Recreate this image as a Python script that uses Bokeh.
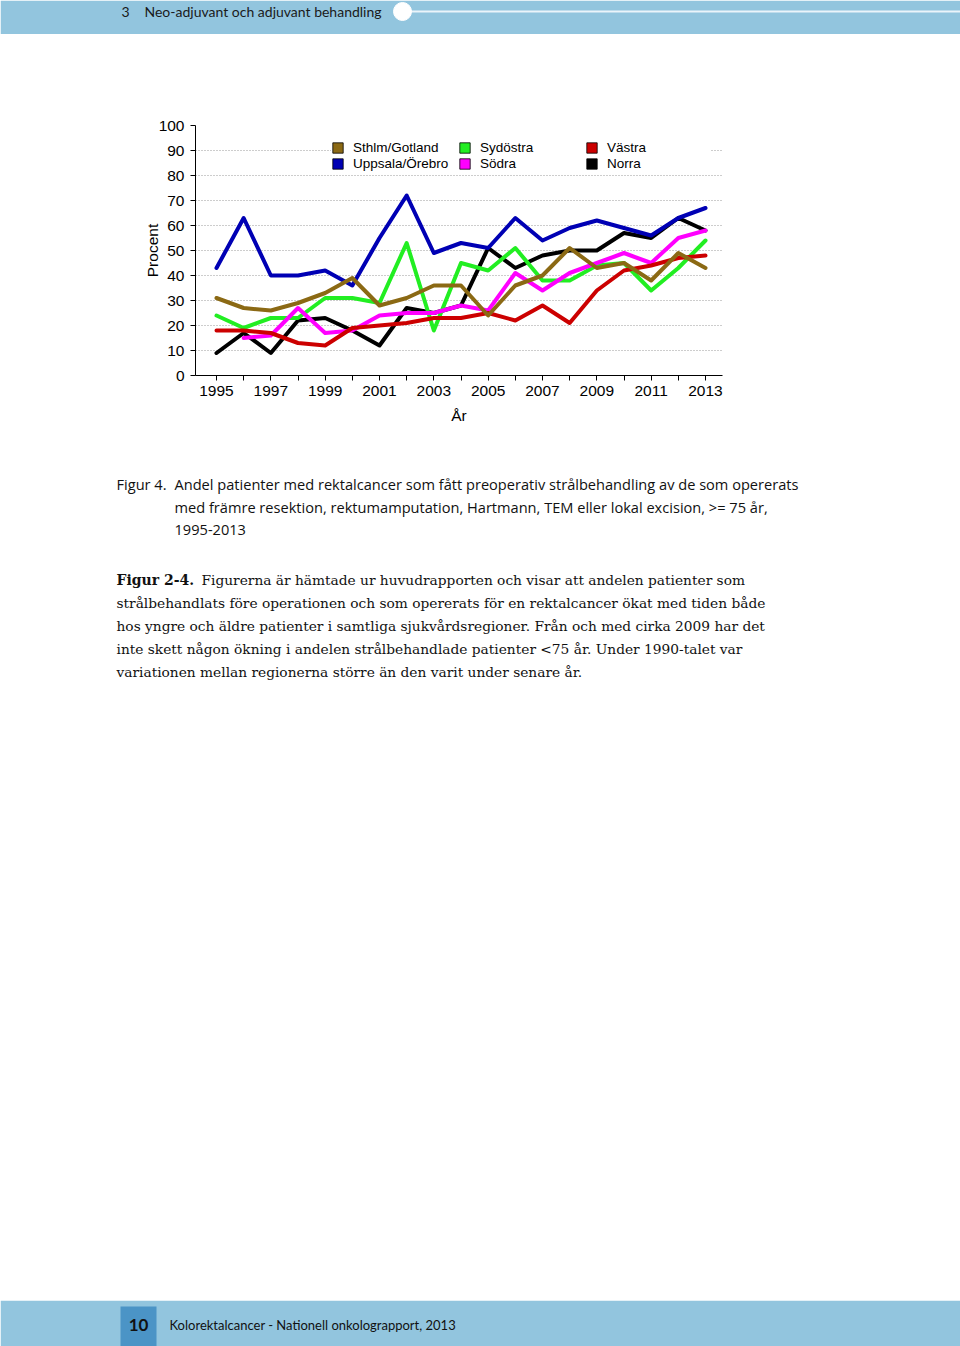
from bokeh.plotting import figure
from bokeh.models import Range1d, FixedTicker, Legend, LegendItem
from bokeh.layouts import column
from bokeh.embed import file_html
from bokeh.resources import INLINE
from bokeh.core.properties import value

nan = float("nan")

# ---------------- data ----------------
years = list(range(1995, 2014))
sthlm_gotland = [31, 27, 26, 29, 33, 39, 28, 31, 36, 36, 24, 36, 40, 51, 43, 45, 38, 49, 43]
uppsala_orebro = [43, 63, 40, 40, 42, 36, 55, 72, 49, 53, 51, 63, 54, 59, 62, 59, 56, 63, 67]
sydostra = [24, 19, 23, 23, 31, 31, 29, 53, 18, 45, 42, 51, 38, 38, 44, 45, 34, 43, 54]
sodra = [nan, 15, 16, 27, 17, 18, 24, 25, 25, 28, 26, 41, 34, 41, 45, 49, 45, 55, 58]
vastra = [18, 18, 17, 13, 12, 19, 20, 21, 23, 23, 25, 22, 28, 21, 34, 42, 44, 47, 48]
norra = [9, 17, 9, 22, 23, 18, 12, 27, 25, 28, 51, 43, 48, 50, 50, 57, 55, 63, 58]

region_names = ["Sthlm/Gotland", "Uppsala/Örebro", "Sydöstra", "Södra", "Västra", "Norra"]
region_values = [sthlm_gotland, uppsala_orebro, sydostra, sodra, vastra, norra]
region_colors = ["#8B6914", "#0000B4", "#22EE22", "#FF00FF", "#CC0000", "#000000"]
draw_order = [5, 2, 3, 4, 1, 0]

y_ticks = list(range(0, 101, 10))
grid_ticks = list(range(10, 100, 10))
x_tick_labels = {y: (str(y) if y % 2 == 1 else "") for y in years}

header_number = "3"
header_title = "Neo-adjuvant och adjuvant behandling"
caption_label = "Figur 4."
caption_lines = [
    "Andel patienter med rektalcancer som fått preoperativ strålbehandling av de som opererats",
    "med främre resektion, rektumamputation, Hartmann, TEM eller lokal excision, >= 75 år,",
    "1995-2013",
]
body_label = "Figur 2-4."
body_first = "Figurerna är hämtade ur huvudrapporten och visar att andelen patienter som"
body_lines = [
    "strålbehandlats före operationen och som opererats för en rektalcancer ökat med tiden både",
    "hos yngre och äldre patienter i samtliga sjukvårdsregioner. Från och med cirka 2009 har det",
    "inte skett någon ökning i andelen strålbehandlade patienter <75 år. Under 1990-talet var",
    "variationen mellan regionerna större än den varit under senare år.",
]
footer_page = "10"
footer_text = "Kolorektalcancer - Nationell onkolograpport, 2013"

BAND = "#92C5DE"
BAND_DARK = "#4B94C6"
HEAD_FONT = "Lato"
CAP_FONT = "Open Sans"
CHART_FONT = "Liberation Sans"
SERIF = "DejaVu Serif"
W = 960


def no_align(f):
    try:
        f.frame_align = False
    except Exception:
        pass
    return f


def deco(height, top, bottom):
    f = figure(width=W, height=height, x_range=Range1d(0, W),
               y_range=Range1d(bottom, top), x_axis_type=None, y_axis_type=None,
               output_backend="svg", toolbar_location=None, min_border=0)
    f.grid.visible = False
    f.outline_line_color = None
    f.background_fill_color = "white"
    f.border_fill_color = "white"
    return no_align(f)


# ---------------- header ----------------
hdr = deco(34, 0, 34)
hdr.quad(left=[0], right=[W], top=[0], bottom=[34], fill_color=BAND, line_color=None)
hdr.segment(x0=[402], y0=[11], x1=[W], y1=[11], line_color="#EAF4FA", line_width=2)
hdr.scatter(x=[402], y=[11], size=18, marker="circle", fill_color="white", line_color="white")
hdr.text(x=[121], y=[11], text=[header_number], text_font=value(HEAD_FONT), text_font_size="14px",
         text_baseline="middle", text_align="left", text_color="#1a1a1a")
hdr.text(x=[144], y=[11], text=[header_title], text_font=value(HEAD_FONT), text_font_size="14px",
         text_baseline="middle", text_align="left", text_color="#1a1a1a")

# ---------------- chart ----------------
px_per_year = (705 - 216) / 18.0
x_start = 1995 - (216 - 195) / px_per_year
x_end = 2013 + (722 - 705) / px_per_year

p = figure(width=W, height=406, x_range=Range1d(x_start, x_end), y_range=Range1d(0, 100),
           min_border_left=195, min_border_right=W - 722, min_border_top=91, min_border_bottom=65,
           output_backend="svg", toolbar_location=None)
no_align(p)
p.outline_line_color = None
p.background_fill_color = "white"
p.border_fill_color = "white"

p.xgrid.visible = False
p.ygrid.ticker = FixedTicker(ticks=grid_ticks)
p.ygrid.grid_line_color = "#9A9A9A"
p.ygrid.grid_line_dash = "1 2"
p.ygrid.grid_line_width = 1

for ax in (p.xaxis, p.yaxis):
    ax.axis_line_color = "black"
    ax.major_tick_line_color = "black"
    ax.major_tick_out = 5
    ax.major_tick_in = 0
    ax.minor_tick_line_color = None
    ax.major_label_text_font = CHART_FONT
    ax.major_label_text_font_size = "15.5px"
    ax.major_label_text_color = "black"
    ax.axis_label_text_font = CHART_FONT
    ax.axis_label_text_font_size = "15.5px"
    ax.axis_label_text_font_style = "normal"
    ax.axis_label_text_color = "black"

p.yaxis.ticker = FixedTicker(ticks=y_ticks)
p.yaxis.major_label_standoff = 6
p.yaxis.axis_label = "Procent"
p.yaxis.axis_label_standoff = -5

p.xaxis.ticker = FixedTicker(ticks=years)
p.xaxis.major_label_overrides = x_tick_labels
p.xaxis.major_label_standoff = 5
p.xaxis.axis_label = "År"
p.xaxis.axis_label_standoff = 8

for i in draw_order:
    p.line(years, region_values[i], line_color=region_colors[i], line_width=4,
           line_join="round", line_cap="round")

items = []
for name, col in zip(region_names, region_colors):
    proxy = p.quad(left=[nan], right=[nan], top=[nan], bottom=[nan], fill_color=col,
                   line_color="black", line_width=0.8)
    items.append(LegendItem(label=name, renderers=[proxy]))

legend = Legend(items=items, location=(136, 204), orientation="vertical", ncols=3,
                glyph_width=13, glyph_height=13, label_height=13, label_width=104,
                label_standoff=9, spacing=1, padding=8, margin=0,
                border_line_color=None, background_fill_color="white", background_fill_alpha=1.0,
                label_text_font=CHART_FONT, label_text_font_size="13.5px", label_text_color="black")
p.add_layout(legend)

# ---------------- text ----------------
txt = deco(860, 440, 1300)
sans_kw = dict(text_font=value(CAP_FONT), text_font_size="14.6px", text_baseline="middle",
               text_align="left", text_color="#111111")
txt.text(x=[116], y=[483], text=[caption_label], **sans_kw)
txt.text(x=[174, 174, 174], y=[483, 506, 529], text=caption_lines, **sans_kw)

serif_kw = dict(text_font=value(SERIF), text_baseline="middle",
                text_align="left", text_color="#111111")
txt.text(x=[116], y=[579], text=[body_label], text_font_style="bold",
         text_font_size="14px", **serif_kw)
txt.text(x=[201], y=[579], text=[body_first], text_font_size="13.75px", **serif_kw)
txt.text(x=[116, 116, 116, 116], y=[602, 625, 648, 671], text=body_lines,
         text_font_size="13.75px", **serif_kw)

# ---------------- footer ----------------
ftr = deco(46, 1300, 1346)
ftr.quad(left=[0], right=[W], top=[1300], bottom=[1346], fill_color=BAND, line_color=None)
ftr.quad(left=[120], right=[156], top=[1306], bottom=[1346], fill_color=BAND_DARK, line_color=None)
ftr.text(x=[138], y=[1324], text=[footer_page], text_font=value(HEAD_FONT), text_font_size="17px",
         text_font_style="bold", text_baseline="middle", text_align="center", text_color="#111111")
ftr.text(x=[169], y=[1324], text=[footer_text], text_font=value(HEAD_FONT), text_font_size="13px",
         text_baseline="middle", text_align="left", text_color="#111111")

page = column(hdr, p, txt, ftr, spacing=0)
open("out.html", "w").write(file_html(page, INLINE))
